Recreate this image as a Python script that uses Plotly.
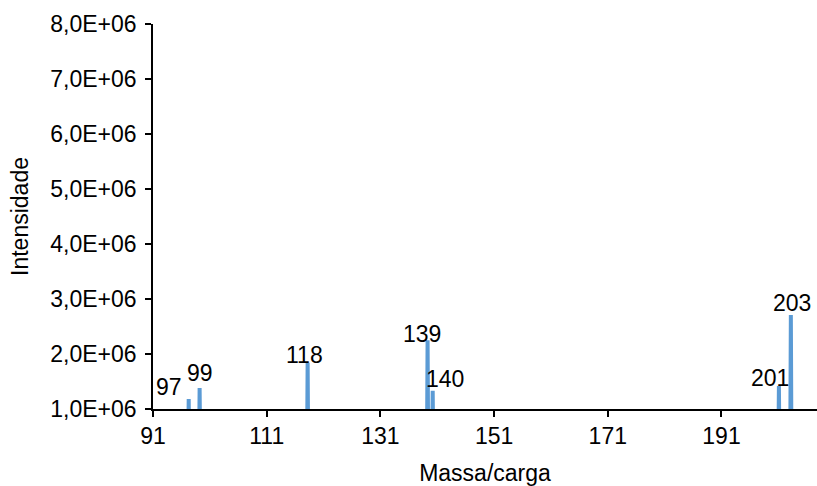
import plotly.graph_objects as go

# Data
peak_labels = ["97", "99", "118", "139", "140", "201", "203"]
peak_mz = [97.28, 99.2, 118.2, 139.3, 140.2, 201.1, 203.2]
peak_int = [1.18e6, 1.38e6, 1.84e6, 2.25e6, 1.33e6, 1.42e6, 2.71e6]
baseline = 0.0

y_ticks = [1e6, 2e6, 3e6, 4e6, 5e6, 6e6, 7e6, 8e6]
y_ticktext = ["1,0E+06", "2,0E+06", "3,0E+06", "4,0E+06", "5,0E+06", "6,0E+06", "7,0E+06", "8,0E+06"]
x_ticks = [91, 111, 131, 151, 171, 191]

# label offsets (pixels) relative to peak tops – style only
label_dx = [-20, 0, -3, -6, 12, -9, 1]
label_dy = [12, 15, 8, 6, 12, 8, 12]

FONT = "Liberation Sans, Arial, sans-serif"
FS = 23
BLUE = "#5B9BD5"

xs, ys = [], []
hw = 0.12
for m, h in zip(peak_mz, peak_int):
    xs += [m - hw, m, m + hw, None]
    ys += [baseline, h, baseline, None]

fig = go.Figure()
fig.add_trace(go.Scatter(x=xs, y=ys, mode="lines",
                         line=dict(color=BLUE, width=4),
                         hoverinfo="skip", showlegend=False))

for lab, m, h, dx, dy in zip(peak_labels, peak_mz, peak_int, label_dx, label_dy):
    fig.add_annotation(x=m, y=h, xref="x", yref="y", text=lab, showarrow=False,
                       xanchor="center", yanchor="middle", xshift=dx, yshift=dy,
                       font=dict(family=FONT, size=FS, color="black"))

fig.update_layout(
    width=817, height=486,
    margin=dict(l=153, r=0, t=24, b=77),
    paper_bgcolor="white", plot_bgcolor="white",
    font=dict(family=FONT, size=FS, color="black"),
    showlegend=False,
    xaxis=dict(range=[91, 207.8], tickvals=x_ticks, ticktext=[str(v) for v in x_ticks],
               showgrid=False, zeroline=False, showline=True, linecolor="black", linewidth=1.5,
               ticks="outside", ticklen=6, tickcolor="black", tickwidth=1.5,
               tickfont=dict(family=FONT, size=FS, color="black"),
               title=dict(text="Massa/carga", font=dict(family=FONT, size=FS, color="black"), standoff=18)),
    yaxis=dict(range=[1e6, 8e6], tickvals=y_ticks, ticktext=y_ticktext,
               showgrid=False, zeroline=False, showline=True, linecolor="black", linewidth=1.5,
               ticks="outside", ticklen=6, tickcolor="black", tickwidth=1.5,
               ticklabelstandoff=4,
               tickfont=dict(family=FONT, size=FS, color="black"),
               title=dict(text="Intensidade", font=dict(family=FONT, size=FS, color="black"), standoff=15)),
)

fig.write_html("out.html")
